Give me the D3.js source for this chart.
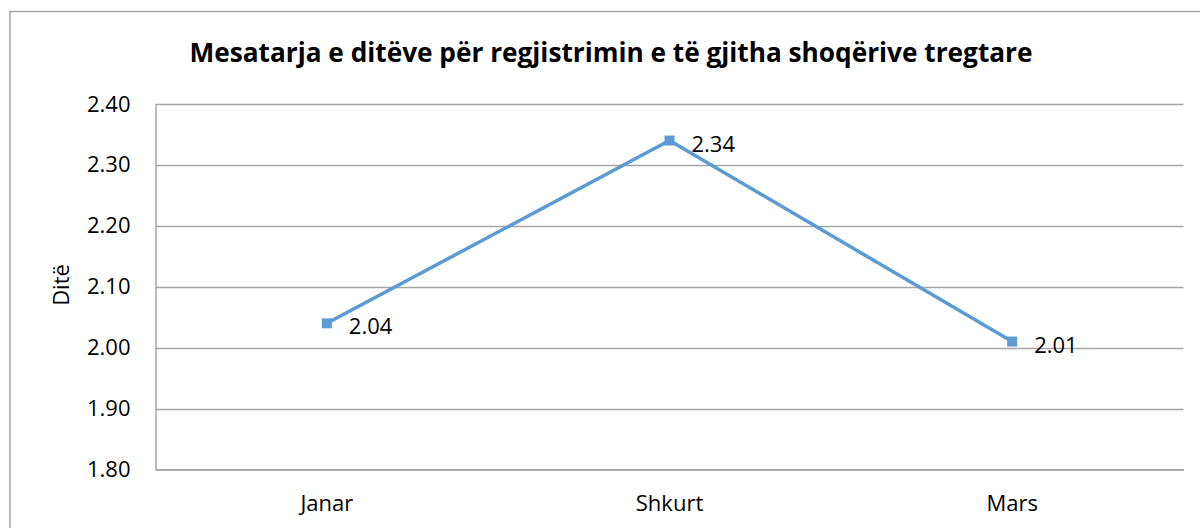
<!DOCTYPE html>
<html>
<head>
<meta charset="utf-8">
<script src="https://cdn.jsdelivr.net/npm/d3@7"></script>
<style>
  body { margin: 0; background: #fff; }
  svg { display: block; font-family: "Open Sans", sans-serif; }
</style>
</head>
<body>
<svg width="1200" height="528"></svg>
<script>
// chart data
var months = ["Janar", "Shkurt", "Mars"];
var days = [2.04, 2.34, 2.01];
var yTicks = [1.80, 1.90, 2.00, 2.10, 2.20, 2.30, 2.40];
var chartTitle = "Mesatarja e ditëve për regjistrimin e të gjitha shoqërive tregtare";
var yTitle = "Ditë";

var svg = d3.select("svg");
var margin = {left: 155.5, right: 16.5, top: 104, bottom: 58.5};
var W = 1200, H = 528;

// outer chart frame
svg.append("rect")
    .attr("x", 10).attr("y", 11.5)
    .attr("width", 1210).attr("height", 540)
    .attr("fill", "none")
    .attr("stroke", "#a6a6a6")
    .attr("stroke-width", 1.5);

var x = d3.scaleBand()
    .domain(months)
    .range([margin.left, W - margin.right]);

var y = d3.scaleLinear()
    .domain([1.8, 2.4])
    .range([H - margin.bottom, margin.top]);

// gridlines
svg.append("g")
    .selectAll("line")
    .data(yTicks.slice(1))
    .enter().append("line")
    .attr("x1", margin.left).attr("x2", W - margin.right)
    .attr("y1", function(d) { return Math.round(y(d)) + 0.5; })
    .attr("y2", function(d) { return Math.round(y(d)) + 0.5; })
    .attr("stroke", "#a6a6a6")
    .attr("stroke-width", 1.3);

// y axis
var yAxis = svg.append("g")
    .attr("transform", "translate(" + margin.left + ",0)")
    .call(d3.axisLeft(y).tickValues(yTicks).tickFormat(d3.format(".2f")).tickSize(0).tickPadding(25));
yAxis.select(".domain").attr("stroke", "#a6a6a6").attr("stroke-width", 1.5);
yAxis.selectAll("text").attr("font-size", 22).attr("fill", "#000").attr("font-family", "Open Sans");

// x axis
var xAxis = svg.append("g")
    .attr("transform", "translate(0," + (H - margin.bottom) + ")")
    .call(d3.axisBottom(x).tickSize(0).tickPadding(26));
xAxis.select(".domain").attr("stroke", "#8c8c8c").attr("stroke-width", 1.5);
xAxis.selectAll("text").attr("font-size", 22).attr("fill", "#000").attr("font-family", "Open Sans");

// title
svg.append("text")
    .attr("x", 611).attr("y", 62)
    .attr("text-anchor", "middle")
    .attr("font-size", 26)
    .attr("font-weight", "bold")
    .attr("textLength", 843)
    .attr("lengthAdjust", "spacingAndGlyphs")
    .text(chartTitle);

// y axis title
svg.append("text")
    .attr("transform", "translate(69,285) rotate(-90)")
    .attr("text-anchor", "middle")
    .attr("font-size", 22)
    .text(yTitle);

// series line
var line = d3.line()
    .x(function(d, i) { return x(months[i]) + x.bandwidth() / 2; })
    .y(function(d) { return y(d); });

svg.append("path")
    .datum(days)
    .attr("d", line)
    .attr("fill", "none")
    .attr("stroke", "#5b9bd5")
    .attr("stroke-width", 3.5);

svg.append("g")
    .selectAll("rect")
    .data(days)
    .enter().append("rect")
    .attr("x", function(d, i) { return x(months[i]) + x.bandwidth() / 2 - 5; })
    .attr("y", function(d) { return y(d) - 5; })
    .attr("width", 10).attr("height", 10)
    .attr("fill", "#5b9bd5");

// data labels
svg.append("g")
    .selectAll("text")
    .data(days)
    .enter().append("text")
    .attr("x", function(d, i) { return x(months[i]) + x.bandwidth() / 2 + 22; })
    .attr("y", function(d) { return y(d) + 11; })
    .attr("font-size", 22)
    .text(function(d) { return d.toFixed(2); });
</script>
</body>
</html>
